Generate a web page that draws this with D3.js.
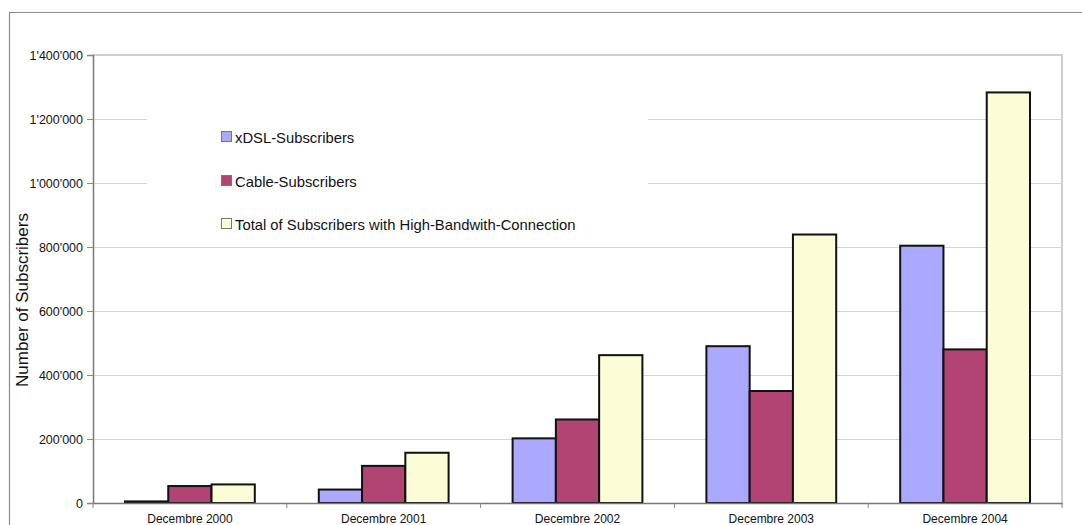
<!DOCTYPE html>
<html>
<head>
<meta charset="utf-8">
<script src="https://cdn.jsdelivr.net/npm/d3@7"></script>
<style>
  html, body { margin: 0; padding: 0; background: #fff; }
  svg { display: block; font-family: "Liberation Sans", Arial, Helvetica, sans-serif; }
</style>
</head>
<body>
<svg id="chart" width="1082" height="525"></svg>
<script>
// Broadband subscribers per year-end
const categories = ["Decembre 2000", "Decembre 2001", "Decembre 2002", "Decembre 2003", "Decembre 2004"];
const seriesNames = ["xDSL-Subscribers", "Cable-Subscribers", "Total of Subscribers with High-Bandwith-Connection"];
const xdsl = [5000, 42000, 202000, 490000, 804000];
const cable = [53000, 116000, 261000, 350000, 480000];
const total = [58000, 157000, 462000, 839000, 1283000];
const yTicks = [0, 200000, 400000, 600000, 800000, 1000000, 1200000, 1400000];
const colors = ["#aaa8ff", "#b24474", "#fafdd6"];

const series = [xdsl, cable, total];
const svg = d3.select("#chart");

const plotLeft = 93, plotRight = 1062, plotTop = 55, plotBottom = 503;

// outer frame
svg.append("path")
  .attr("d", `M9.5,525 V12.5 H1082`)
  .attr("fill", "none").attr("stroke", "#8a8a8a").attr("stroke-width", 1.2);

const x0 = d3.scaleBand().domain(categories).range([plotLeft, plotRight]).paddingInner(0).paddingOuter(0);
const groupPad = 32;
const x1 = d3.scaleBand().domain(d3.range(3)).range([groupPad, x0.bandwidth() - groupPad]).padding(0);
const y = d3.scaleLinear().domain([0, 1400000]).range([plotBottom, plotTop]);

const fmt = v => d3.format(",")(v).replace(/,/g, "'");

// gridlines
svg.append("g")
  .selectAll("line").data(yTicks.filter(t => t > 0 && t < 1400000)).join("line")
  .attr("x1", plotLeft).attr("x2", plotRight)
  .attr("y1", d => Math.round(y(d)) + 0.5).attr("y2", d => Math.round(y(d)) + 0.5)
  .attr("stroke", "#d6d6d6").attr("stroke-width", 1);

// plot-area border (top and right)
svg.append("path")
  .attr("d", `M${plotLeft},${plotTop} H${plotRight} V${plotBottom + 2}`)
  .attr("fill", "none").attr("stroke", "#cfcfcf").attr("stroke-width", 2);

// legend backdrop
const legend = svg.append("g");
legend.append("rect").attr("x", 147).attr("y", 116).attr("width", 501).attr("height", 130).attr("fill", "#fff");

// bars
const groups = svg.append("g").selectAll("g").data(categories).join("g")
  .attr("transform", d => `translate(${x0(d)},0)`);
groups.selectAll("rect")
  .data((c, i) => series.map((s, k) => ({ k, v: s[i] })))
  .join("rect")
  .attr("x", d => x1(d.k))
  .attr("width", x1.bandwidth())
  .attr("y", d => y(d.v))
  .attr("height", d => y(0) - y(d.v))
  .attr("fill", d => colors[d.k])
  .attr("stroke", "#111").attr("stroke-width", 2);

// y axis
const yAxis = svg.append("g")
  .attr("transform", `translate(${plotLeft},0)`)
  .call(d3.axisLeft(y).tickValues(yTicks).tickFormat(fmt).tickSize(6).tickPadding(4));
yAxis.select(".domain").attr("stroke", "#777").attr("stroke-width", 1.5);
yAxis.selectAll(".tick line").attr("stroke", "#888");
yAxis.selectAll("text").attr("font-size", 12.5).attr("fill", "#111")
  .attr("font-family", "\"Liberation Sans\", Arial, sans-serif");

// x axis
const xAxis = svg.append("g")
  .attr("transform", `translate(0,${plotBottom})`)
  .call(d3.axisBottom(x0).tickSize(0).tickPadding(11));
xAxis.select(".domain").attr("stroke", "#777").attr("stroke-width", 1.5);
xAxis.selectAll("text").attr("font-size", 12).attr("fill", "#111")
  .attr("font-family", "\"Liberation Sans\", Arial, sans-serif");
// boundary ticks between categories
xAxis.append("g").selectAll("line")
  .data(categories.map(c => x0(c)).concat([plotRight]))
  .join("line")
  .attr("x1", d => d).attr("x2", d => d).attr("y1", 0).attr("y2", 5)
  .attr("stroke", "#888");

// y axis title
svg.append("text")
  .attr("transform", `translate(28,${(plotTop + plotBottom) / 2 + 21}) rotate(-90)`)
  .attr("text-anchor", "middle")
  .attr("font-size", 17).attr("fill", "#111")
  .text("Number of Subscribers");

// legend entries
const ly = [137, 181, 224];
seriesNames.forEach((name, k) => {
  legend.append("rect")
    .attr("x", 221.5).attr("y", ly[k] - 5.5).attr("width", 10).attr("height", 10)
    .attr("fill", colors[k]).attr("stroke", "#777").attr("stroke-width", 1);
  legend.append("text")
    .attr("x", 235).attr("y", ly[k] + 5.5)
    .attr("font-size", 14.8).attr("fill", "#111")
    .text(name);
});
</script>
</body>
</html>
